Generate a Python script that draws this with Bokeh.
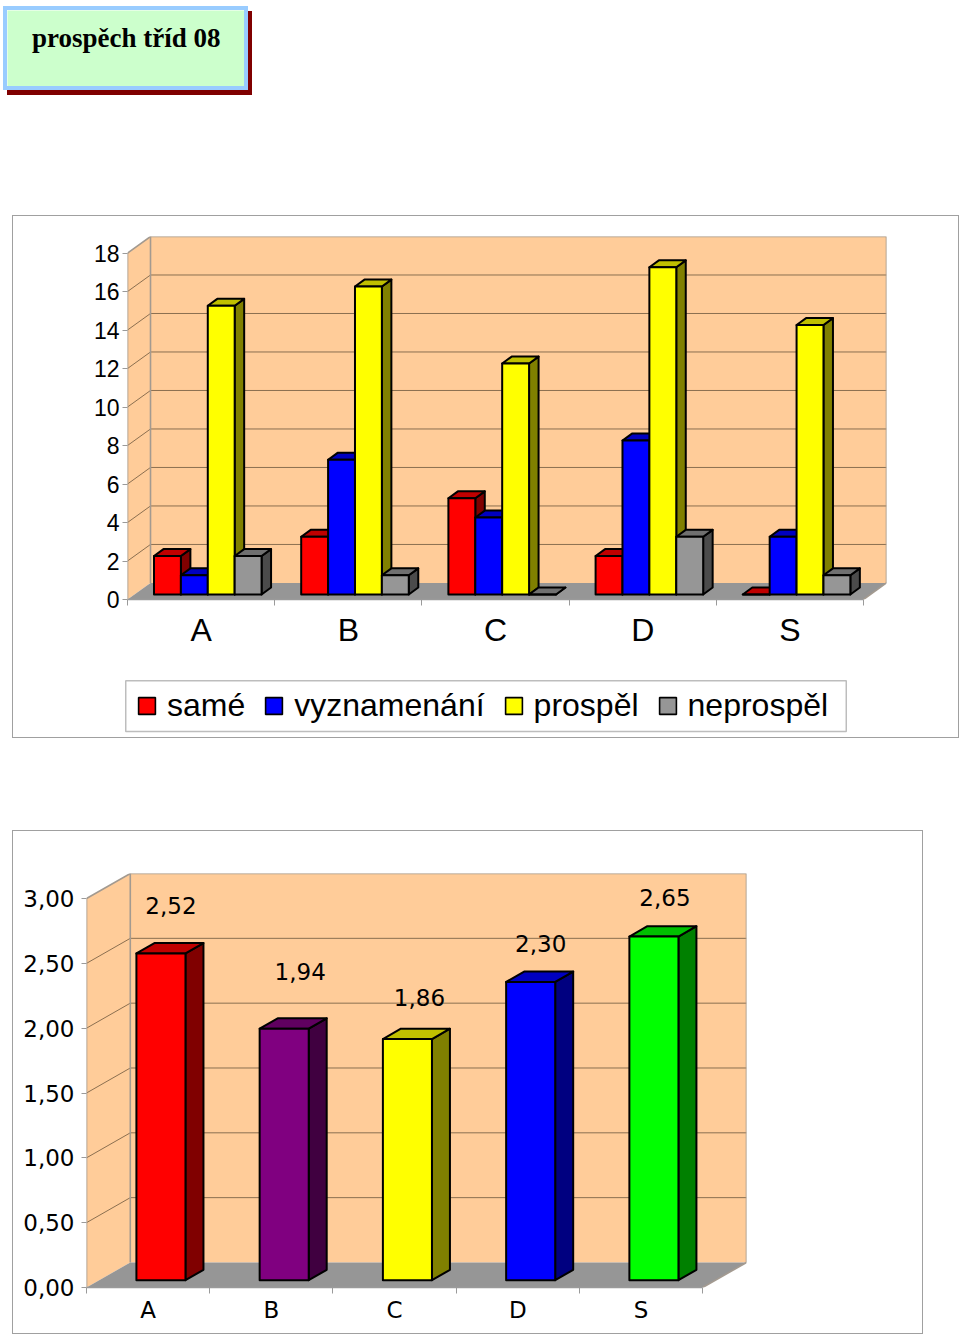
from bokeh.plotting import figure
from bokeh.layouts import column
from bokeh.models import (Range1d, FixedTicker, Legend, LegendItem, ColumnDataSource)
from bokeh.core.properties import value
from bokeh.embed import file_html
from bokeh.resources import INLINE

# ---------- data ----------
title_text = "prospěch tříd 08"

classes = ["A", "B", "C", "D", "S"]
same = [2, 3, 5, 2, 0]
vyznamenani = [1, 7, 4, 8, 3]
prospel = [15, 16, 12, 17, 14]
neprospel = [2, 1, 0, 3, 1]
series_names = ["samé", "vyznamenání", "prospěl", "neprospěl"]
count_ticks = [0, 2, 4, 6, 8, 10, 12, 14, 16, 18]

averages = [2.52, 1.94, 1.86, 2.30, 2.65]
average_labels = ["2,52", "1,94", "1,86", "2,30", "2,65"]
average_ticks = [0, 0.5, 1, 1.5, 2, 2.5, 3]
average_tick_labels = ["0,00", "0,50", "1,00", "1,50", "2,00", "2,50", "3,00"]

# ---------- style ----------
WALL = "#FFCC99"
FLOOR = "#969696"
EDGE = "#A39A90"
GRID = "#8B6F50"
AXIS = "#9A9A9A"
SHADES = {
    "red": ("#FF0000", "#C00000", "#800000"),
    "blue": ("#0000FF", "#0000C0", "#000080"),
    "yellow": ("#FFFF00", "#C0C000", "#808000"),
    "gray": ("#969696", "#707070", "#4B4B4B"),
    "purple": ("#800080", "#600060", "#400040"),
    "lime": ("#00FF00", "#00C000", "#008000"),
}


def room(p, n, xmax, ymax, dx, dy, ticks):
    """Draw the oblique walls, floor and grid of a pseudo-3D chart."""
    p.quad(left=[dx], right=[xmax], bottom=[dy], top=[ymax], fill_color=WALL, line_color=None)
    p.patch([0, dx, dx, 0], [0, dy, ymax, ymax - dy], fill_color=WALL, line_color=None)
    p.patch([0, n, n + dx, dx], [0, 0, dy, dy], fill_color=FLOOR, line_color=None)
    inner = [t for t in ticks if t > 0 and t < max(ticks)]
    p.segment(x0=[dx] * len(inner), x1=[xmax] * len(inner),
              y0=[t + dy for t in inner], y1=[t + dy for t in inner],
              line_color=GRID, line_width=1)
    p.segment(x0=[0] * len(inner), x1=[dx] * len(inner),
              y0=inner, y1=[t + dy for t in inner], line_color=GRID, line_width=1)
    # wall edges
    p.line([0, dx, xmax, xmax, n + dx], [ymax - dy, ymax, ymax, dy, dy],
           line_color=EDGE, line_width=1.6)
    p.line([n, n + dx], [0, dy], line_color=EDGE, line_width=1.6)
    p.line([dx, dx], [dy, ymax], line_color=EDGE, line_width=1.6)
    p.line([0, 0], [0, ymax - dy], line_color=EDGE, line_width=1.6)


def bars(p, lefts, width, base, vals, sx, sy, shades, lw=2):
    """Front, side and top faces of a row of bars; returns the front renderer."""
    front, top, side = shades
    xs_top, ys_top, xs_side, ys_side = [], [], [], []
    for l, v in zip(lefts, vals):
        r = l + width
        t = base + v
        xs_top.append([l, r, r + sx, l + sx])
        ys_top.append([t, t, t + sy, t + sy])
        xs_side.append([r, r + sx, r + sx, r])
        ys_side.append([base, base + sy, t + sy, t])
    p.patches(xs_side, ys_side, fill_color=side, line_color="black", line_width=lw, line_join="round")
    p.patches(xs_top, ys_top, fill_color=top, line_color="black", line_width=lw, line_join="round")
    return p.quad(left=lefts, right=[l + width for l in lefts], bottom=[base] * len(vals),
                  top=[base + v for v in vals], fill_color=front, line_color="black",
                  line_width=lw, line_join="round")


def style_axes(p, n, y_ticks, y_labels, y_top, font, ysize, xsize, xstandoff, ystandoff):
    p.xgrid.visible = False
    p.ygrid.visible = False
    xa = p.xaxis[0]
    xa.ticker = FixedTicker(ticks=[i + 0.5 for i in range(n)], minor_ticks=list(range(n + 1)))
    xa.major_label_overrides = {i + 0.5: c for i, c in enumerate(classes)}
    xa.major_tick_line_color = None
    xa.minor_tick_line_color = AXIS
    xa.minor_tick_in = 0
    xa.minor_tick_out = 6
    xa.axis_line_color = AXIS
    xa.axis_line_width = 1.5
    xa.bounds = (0, n)
    xa.major_label_text_font = font
    xa.major_label_text_font_size = xsize
    xa.major_label_text_color = "black"
    xa.major_label_standoff = xstandoff
    ya = p.yaxis[0]
    ya.ticker = FixedTicker(ticks=y_ticks)
    ya.major_label_overrides = dict(zip(y_ticks, y_labels))
    ya.minor_tick_line_color = None
    ya.major_tick_line_color = AXIS
    ya.major_tick_in = 0
    ya.major_tick_out = 5
    ya.axis_line_color = None
    ya.bounds = (0, y_top)
    ya.major_label_text_font = font
    ya.major_label_text_font_size = ysize
    ya.major_label_text_color = "black"
    ya.major_label_standoff = ystandoff
    p.outline_line_color = None


LINE = "1px solid #A0A0A0"

# ---------- title box ----------
pt = figure(width=245, height=84, x_range=Range1d(0, 1), y_range=Range1d(0, 1),
            output_backend="svg", toolbar_location=None, x_axis_location=None,
            y_axis_location=None, min_border=0, margin=(6, 0, 0, 3), frame_align=False,
            background_fill_color="#CCFFCC", border_fill_color="#CCFFCC")
pt.styles = {"border": "4px solid #99CCFF", "box-sizing": "border-box",
             "box-shadow": "4px 5px 0 #800000"}
pt.grid.visible = False
pt.outline_line_color = None
pt.text(x=[0.485], y=[0.67], text=[title_text], text_align="center", text_baseline="middle",
        text_font=value("Liberation Serif"), text_font_style="bold",
        text_font_size="27px", text_color="black")

# ---------- chart 1 ----------
n = len(classes)
DX1, DY1 = 0.1563, 0.86
YMAX1 = 18.86
p1 = figure(width=947, height=450, x_range=Range1d(0, n + DX1), y_range=Range1d(0, YMAX1),
            output_backend="svg", toolbar_location=None, frame_align=False,
            min_border_left=114, min_border_right=74, min_border_top=20, min_border_bottom=67,
            margin=(125, 0, 0, 12))
p1.styles = {"border-left": LINE, "border-right": LINE, "border-top": LINE, "box-sizing": "border-box"}
room(p1, n, n + DX1, YMAX1, DX1, DY1, count_ticks)
BAR_W1 = 0.1827
OFF1 = 0.18
groups1 = [same, vyznamenani, prospel, neprospel]
colors1 = ["red", "blue", "yellow", "gray"]
for k, (vals, col) in enumerate(zip(groups1, colors1)):
    lefts = [i + OFF1 + k * BAR_W1 for i in range(n)]
    bars(p1, lefts, BAR_W1, 0.26, vals, 0.0645, 0.36, SHADES[col])
style_axes(p1, n, count_ticks, [str(t) for t in count_ticks], 18,
           "Liberation Sans", "23px", "32px", 6, 3)

# legend strip: the lower part of chart 1's box (ranges count pixels of the strip)
pl = figure(width=947, height=73, x_range=Range1d(0, 945), y_range=Range1d(0, 72),
            output_backend="svg", toolbar_location=None, frame_align=False,
            x_axis_location=None, y_axis_location=None, min_border=0,
            margin=(0, 0, 0, 12))
pl.styles = {"border-left": LINE, "border-right": LINE, "border-bottom": LINE, "box-sizing": "border-box"}
pl.grid.visible = False
pl.outline_line_color = None
pl.quad(left=[112], right=[831], bottom=[7], top=[57], fill_color="white",
        line_color="#BDBDBD", line_width=1.5)
items = []
for col, name in zip(colors1, series_names):
    # the swatch's own quad lies outside the strip's ranges; only its legend glyph shows
    r = pl.quad(left=[2000], right=[2001], bottom=[2000], top=[2001], fill_color=SHADES[col][0],
                line_color="black", line_width=1.6)
    items.append(LegendItem(label=name, renderers=[r]))
leg = Legend(items=items, orientation="horizontal", location=(123, 14),
             glyph_width=21, glyph_height=21, label_standoff=10, spacing=18,
             padding=11, margin=0,
             label_text_font="Liberation Sans", label_text_font_size="32px",
             label_text_color="black", label_text_baseline="middle",
             border_line_color=None, background_fill_alpha=0)
pl.add_layout(leg)

# ---------- chart 2 ----------
DX2, DY2 = 0.3553, 0.193
YMAX2 = 3.193
p2 = figure(width=911, height=504, x_range=Range1d(0, n + DX2), y_range=Range1d(0, YMAX2),
            output_backend="svg", toolbar_location=None, frame_align=False,
            min_border_left=73, min_border_right=178, min_border_top=42, min_border_bottom=48,
            margin=(92, 0, 0, 12))
p2.styles = {"border": LINE, "box-sizing": "border-box"}
room(p2, n, n + DX2, YMAX2, DX2, DY2, average_ticks)
BAR_W2 = 0.398
OFF2 = 0.405
colors2 = ["red", "purple", "yellow", "blue", "lime"]
label_nudge = [-48, -57, -42, -38, -39]
label_shift = [10, 16, 12, 10, 11]
for i, (v, col) in enumerate(zip(averages, colors2)):
    bars(p2, [i + OFF2], BAR_W2, 0.0565, [v], 0.146, 0.08, SHADES[col])
src = ColumnDataSource(dict(x=[i + OFF2 + BAR_W2 / 2 for i in range(n)],
                            y=[v + 0.0565 for v in averages], t=average_labels,
                            yo=label_nudge, xo=label_shift))
p2.text(x="x", y="y", text="t", source=src, x_offset="xo", y_offset="yo",
        text_align="center", text_baseline="middle",
        text_font=value("DejaVu Sans"), text_font_size="23px", text_color="black")
style_axes(p2, n, average_ticks, average_tick_labels, 3, "DejaVu Sans", "23px", "23px", 3, 7)

root = column(pt, p1, pl, p2, spacing=0)
open("out.html", "w").write(file_html(root, INLINE))
